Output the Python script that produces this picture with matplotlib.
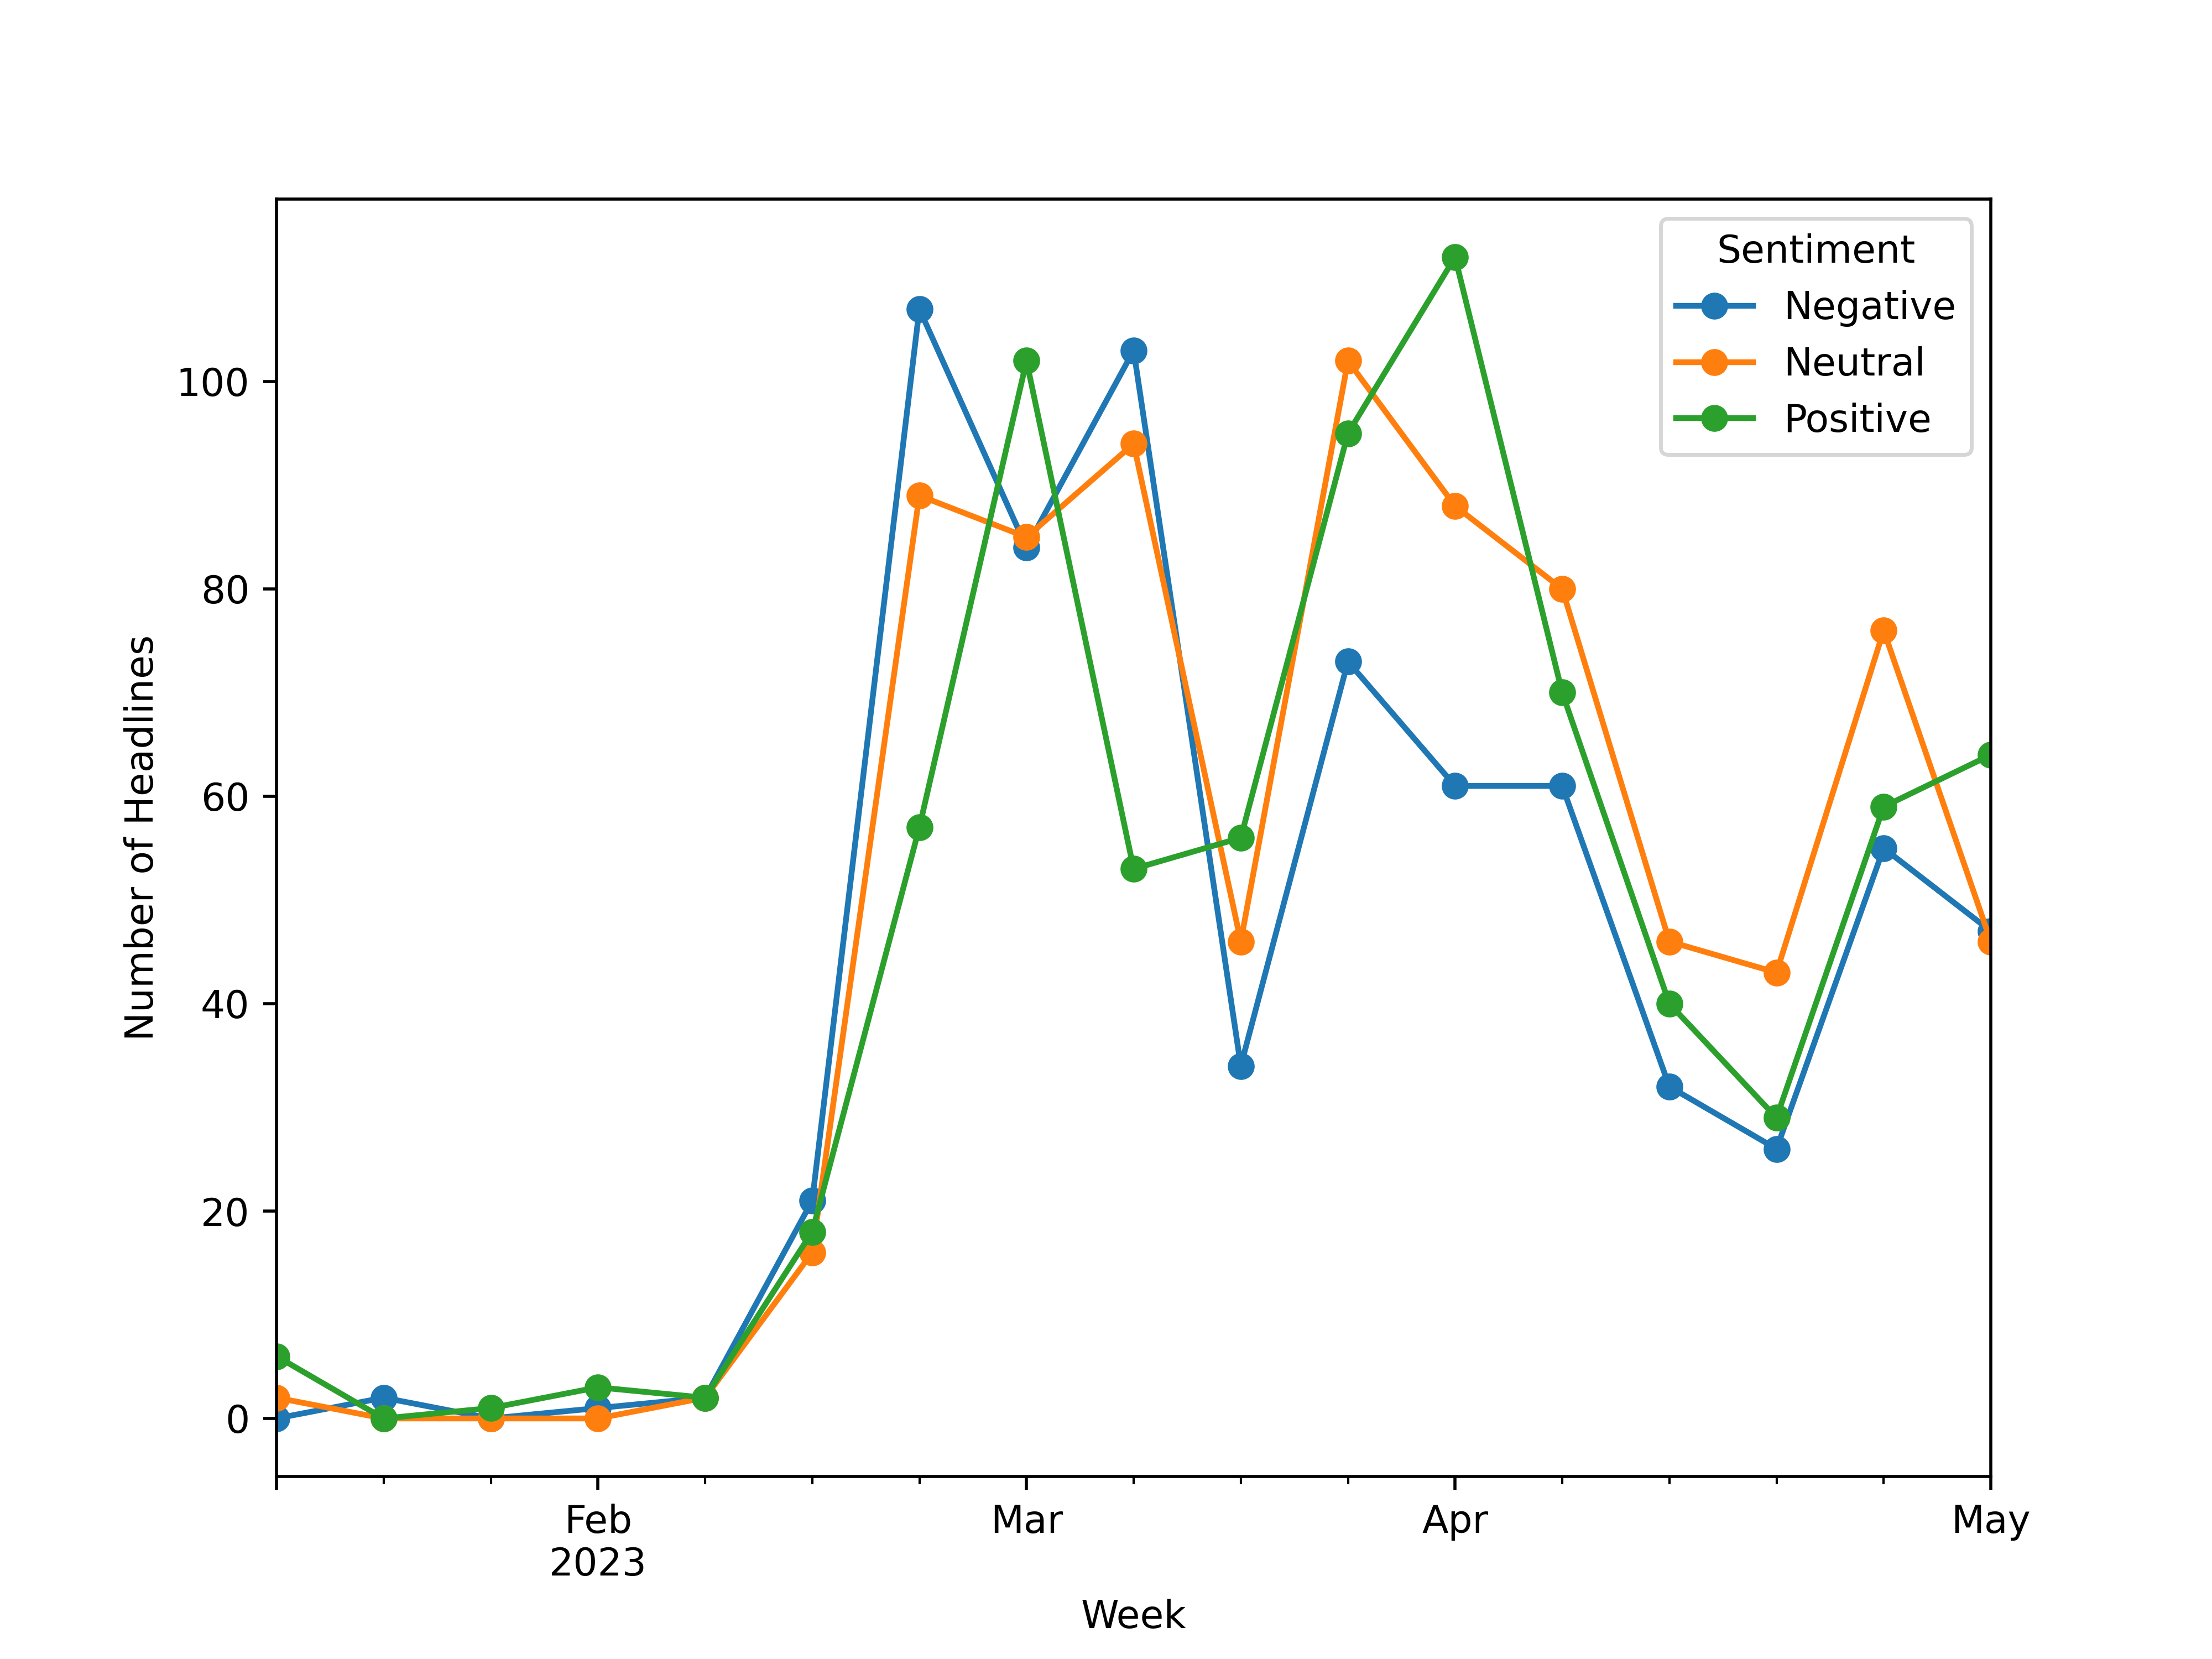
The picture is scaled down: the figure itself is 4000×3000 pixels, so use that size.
import matplotlib
matplotlib.use("Agg")
import matplotlib.pyplot as plt
import pandas as pd

weeks = pd.date_range("2023-01-15", periods=17, freq="W-SUN")
negative = [0, 2, 0, 1, 2, 21, 107, 84, 103, 34, 73, 61, 61, 32, 26, 55, 47]
neutral = [2, 0, 0, 0, 2, 16, 89, 85, 94, 46, 102, 88, 80, 46, 43, 76, 46]
positive = [6, 0, 1, 3, 2, 18, 57, 102, 53, 56, 95, 112, 70, 40, 29, 59, 64]

df = pd.DataFrame({"Negative": negative, "Neutral": neutral, "Positive": positive},
                  index=weeks)
df.index.name = "Week"
df.columns.name = "Sentiment"

fig, ax = plt.subplots(figsize=(8, 6), dpi=500)
df.plot(ax=ax, marker="o")
ax.set_xlabel("Week")
ax.set_ylabel("Number of Headlines")
ax.legend(title="Sentiment", loc="upper right")
fig.savefig("out.png", dpi=500)
